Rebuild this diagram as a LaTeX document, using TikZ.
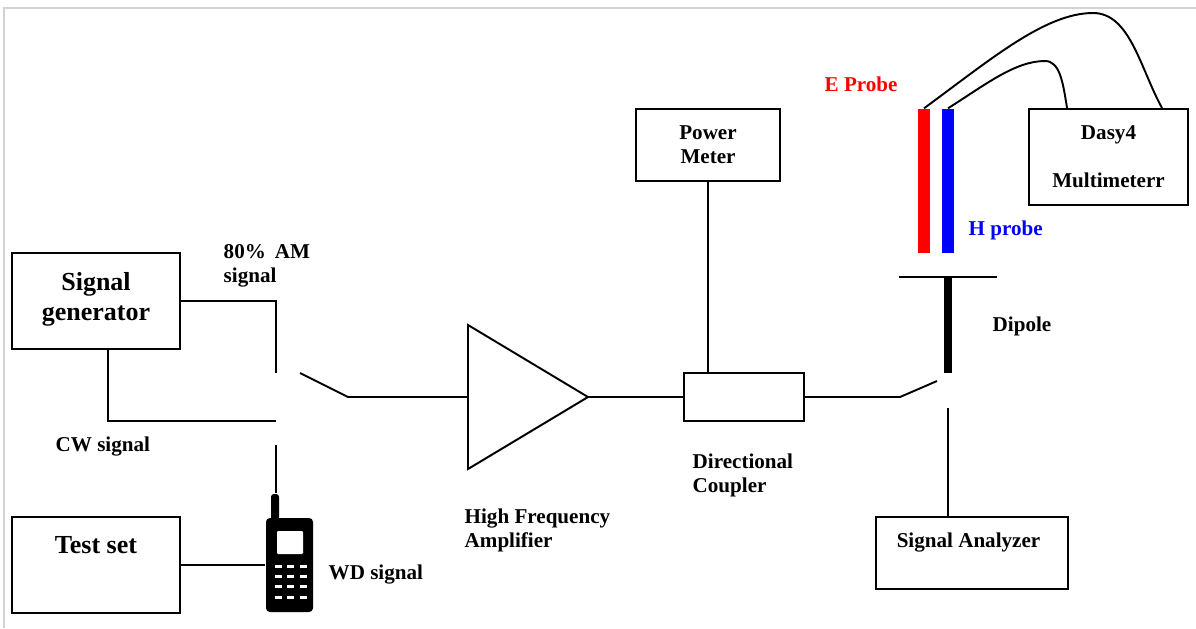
\documentclass[tikz,border=0pt]{standalone}
\usepackage{fontspec}
\setmainfont{Liberation Serif}
\usetikzlibrary{calc}
\tikzset{
  wire/.style={line width=0.55pt,line join=miter},
  box/.style={draw,line width=0.55pt,inner sep=0pt,align=center},
  lbl/.style={font=\bfseries\fontsize{6}{6.85}\selectfont,inner sep=0pt,align=left},
  biglbl/.style={font=\bfseries\fontsize{7.4}{8.6}\selectfont,inner sep=0pt,align=center},
  bar/.style={fill,inner sep=0pt},
}
\begin{document}
\begin{tikzpicture}
  \useasboundingbox (0,0) rectangle (11.96,6.28);
  %% Frame
  \draw[gray!35,line width=0.7pt] (0.04,0) -- (0.04,6.2) -- (11.96,6.2);

  %% Boxes
  \node[box,minimum width=1.68cm,minimum height=0.96cm] (siggen) at (0.96,3.27) {};
  \node[box,minimum width=1.68cm,minimum height=0.96cm] (testset) at (0.96,0.63) {};
  \node[box,minimum width=1.44cm,minimum height=0.72cm,font=\bfseries\fontsize{6}{6.85}\selectfont] (powermeter) at (7.08,4.83) {Power\\Meter};
  \node[box,minimum width=1.20cm,minimum height=0.48cm] (coupler) at (7.44,2.31) {};
  \node[box,minimum width=1.92cm,minimum height=0.72cm] (analyzer) at (9.72,0.75) {};
  \node[box,minimum width=1.59cm,minimum height=0.96cm,font=\bfseries\fontsize{6}{13.7}\selectfont] (dasy) at (11.085,4.71) {Dasy4\\Multimeterr};
  \node[biglbl] (siggenlbl) at (0.96,3.29) {Signal\\generator};
  \node[biglbl] (testsetlbl) at (0.96,0.83) {Test set};
  \node[lbl] (analyzerlbl) at (9.685,0.86) {Signal Analyzer};

  %% Switch contacts
  \coordinate (amtop) at (2.76,2.55);
  \coordinate (cwtap) at (1.08,2.79);
  \coordinate (cwend) at (2.76,2.07);
  \coordinate (wdend) at (2.76,1.83);
  \coordinate (swarm) at (3.00,2.55);
  \coordinate (swknee) at (3.48,2.31);
  \coordinate (ampin) at (4.68,2.31);
  \coordinate (amptip) at (5.88,2.31);
  \coordinate (sw2knee) at (9.00,2.31);
  \coordinate (sw2arm) at (9.37,2.47);
  \coordinate (anend) at (9.48,2.20);

  %% Amplifier
  \draw[wire] (4.68,3.03) -- (amptip) -- (4.68,1.59) -- cycle;

  %% Wires
  \draw[wire] (siggen.east) -| (amtop);
  \draw[wire] (cwtap) |- (cwend);
  \draw[wire] (swarm) -- (swknee) -- (ampin);
  \draw[wire] (amptip) -- (coupler.west);
  \draw[wire] (powermeter.south) -- (powermeter.south |- coupler.north);
  \draw[wire] (coupler.east) -- (sw2knee) -- (sw2arm);
  \draw[wire] (anend) -- (anend |- analyzer.north);

  %% Phone
  \node[bar,rounded corners=1.1pt,minimum width=0.47cm,minimum height=0.94cm] (phone) at (2.895,0.63) {};
  \node[bar,rounded corners=0.8pt,minimum width=0.08cm,minimum height=0.26cm] (antenna) at (2.75,1.21) {};
  \node[bar,fill=white,rounded corners=0.3pt,minimum width=0.26cm,minimum height=0.23cm] (screen) at (2.90,0.855) {};
  \foreach \x in {2.78,2.90,3.03}{
    \foreach \y in {0.62,0.515,0.42,0.305}{
      \fill[white] (\x-0.035,\y-0.015) rectangle (\x+0.035,\y+0.015);
    }
  }
  \draw[wire] (wdend) -- (antenna.north -| wdend);
  \draw[wire] (testset.east) -- (phone.west);

  %% Probes and dipole
  \node[bar,red,minimum width=0.12cm,minimum height=1.44cm] (eprobe) at (9.24,4.47) {};
  \node[bar,blue,minimum width=0.12cm,minimum height=1.44cm] (hprobe) at (9.48,4.47) {};
  \node[bar,minimum width=0.08cm,minimum height=0.96cm] (dipole) at (9.48,3.03) {};
  \coordinate (armleft) at (8.99,3.51);
  \coordinate (armright) at (9.97,3.51);
  \draw[wire] (armleft) -- (armright);
  \coordinate (dasyA) at ($(dasy.north west)+(0.39,0)$);
  \coordinate (dasyB) at ($(dasy.north west)+(1.34,0)$);
  \draw[wire] (eprobe.north) .. controls (9.9,5.68) and (10.45,6.15) .. (10.93,6.15)
    .. controls (11.3,6.15) and (11.4,5.6) .. (dasyB);
  \draw[wire] (hprobe.north) .. controls (9.85,5.43) and (10.15,5.67) .. (10.45,5.67)
    .. controls (10.6,5.67) and (10.63,5.45) .. (dasyA);

  %% Labels
  \node[lbl,anchor=west] (amlbl) at (2.23,3.62) {80\%\hspace{0.09cm}AM\\signal};
  \node[lbl,anchor=west] (cwlbl) at (0.55,1.82) {CW signal};
  \node[lbl,anchor=west] (wdlbl) at (3.28,0.54) {WD signal};
  \node[lbl,anchor=west] (amplbl) at (4.64,0.98) {High Frequency\\Amplifier};
  \node[lbl,anchor=west] (couplbl) at (6.92,1.53) {Directional\\Coupler};
  \node[lbl,anchor=west] (dipolelbl) at (9.92,3.02) {Dipole};
  \node[lbl,anchor=west,red] (elbl) at (8.24,5.44) {E Probe};
  \node[lbl,anchor=west,blue] (hlbl) at (9.68,3.98) {H probe};
\end{tikzpicture}
\end{document}
